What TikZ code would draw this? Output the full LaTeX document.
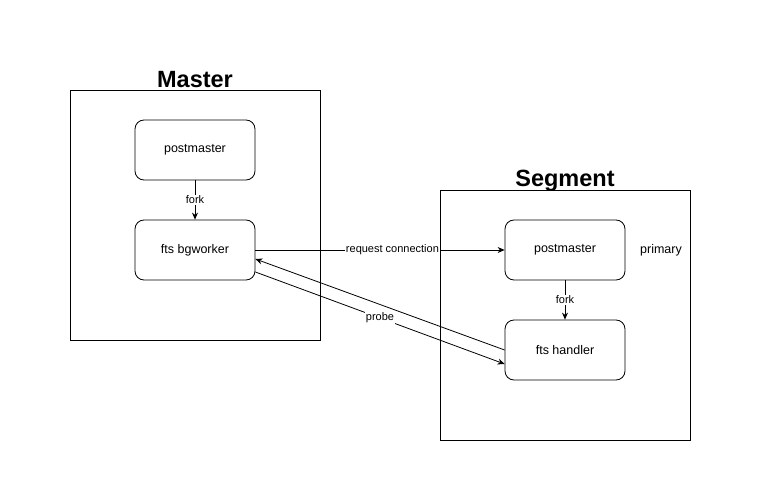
\documentclass[tikz,border=0pt]{standalone}
\usepackage{fontspec}
\setmainfont{Liberation Sans}
\usetikzlibrary{arrows.meta}

\begin{document}
\begin{tikzpicture}[x=1pt,y=-1pt,line width=0.8pt,
	proc/.style={draw,rounded corners=9pt,minimum width=120pt,minimum height=60pt,font=\fontsize{12.5}{15}\selectfont},
	group/.style={draw,minimum width=250pt,minimum height=250pt},
	title/.style={font=\bfseries\fontsize{23.5}{28}\selectfont},
	lbl/.style={fill=white,inner sep=1pt,font=\fontsize{11}{13}\selectfont},
	arr/.style={-{Stealth[length=7pt,width=6pt]}}]
	
	\useasboundingbox (0,0) rectangle (761,481);
	
	% the two hosts
	\node[group] (master) at (195,215) {};
	\node[title] (mastertitle) at (195,80) {Master};
	\node[group] (segment) at (565,315) {};
	\node[title] (segmenttitle) at (565,181) {Segment};
	
	\node[proc] (pmM) at (195,150) {postmaster};
	\node[proc] (bgw) at (195,250) {fts bgworker};
	\node[proc] (pmS) at (565,250) {postmaster};
	\node[proc] (hdl) at (565,350) {fts handler};
	\node[font=\fontsize{12.5}{15}\selectfont] (primary) at (661,250) {primary};
	
	\foreach \a/\b in {pmM/bgw,pmS/hdl}
	{
		\draw[arr] (\a.south)--(\b.north) node[lbl,midway] {fork};
	}
	
	\draw[arr] (bgw.east)--(pmS.west) node[lbl,pos=0.55] {request connection};
	\draw[arr] (hdl.west)--([yshift=-9pt]bgw.east);
	\draw[arr] ([yshift=-22pt]bgw.east)--([yshift=-14pt]hdl.west) node[lbl,pos=0.5] {probe};
	
\end{tikzpicture}
\end{document}
